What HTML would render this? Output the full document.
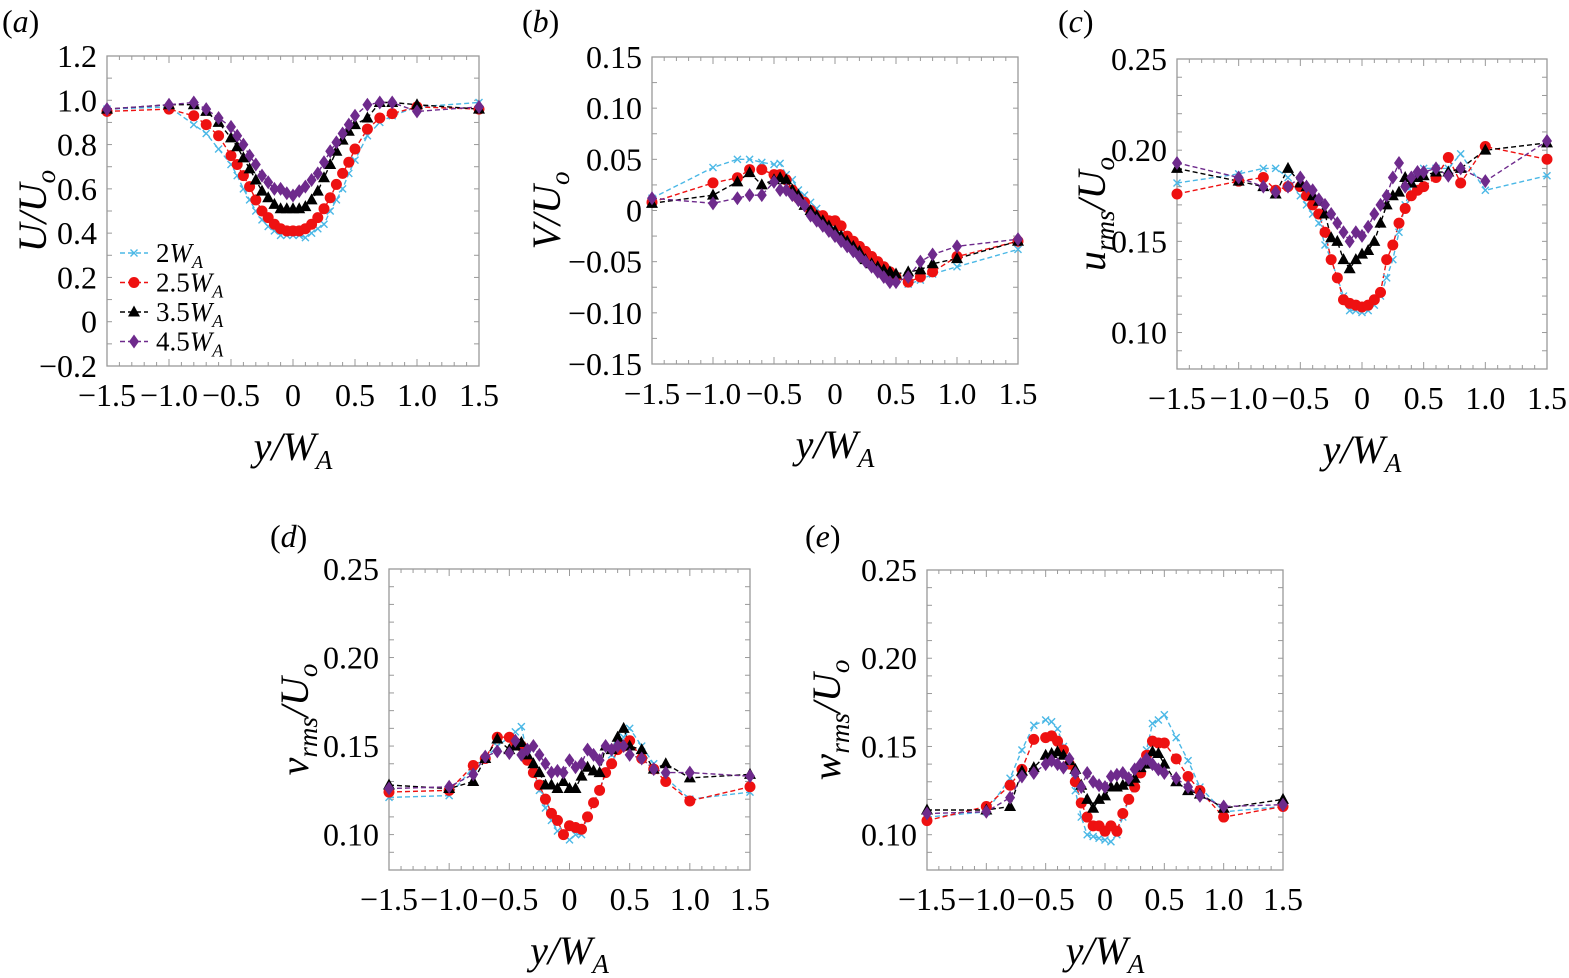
<!DOCTYPE html>
<html><head><meta charset="utf-8"><style>
html,body{margin:0;padding:0;background:#fff;}
svg, svg text{font-family:"Liberation Serif","Times New Roman",Times,serif;}
svg{display:block;}
</style></head><body>
<svg id="fig" width="1569" height="978" viewBox="0 0 1569 978" xmlns="http://www.w3.org/2000/svg" font-family="Liberation Serif, Times New Roman, serif"></svg>
<script>
const xs=[-1.5,-1,-0.8,-0.7,-0.6,-0.5,-0.45,-0.4,-0.35,-0.3,-0.25,-0.2,-0.15,-0.1,-0.05,0,0.05,0.1,0.15,0.2,0.25,0.3,0.35,0.4,0.45,0.5,0.6,0.7,0.8,1.0,1.5];
const seriesNames=["2WA","2.5WA","3.5WA","4.5WA"];
// panel a: U/Uo
const aS1=[0.96,0.97,0.89,0.85,0.78,0.71,0.66,0.60,0.55,0.50,0.46,0.43,0.41,0.39,0.39,0.39,0.39,0.38,0.40,0.42,0.44,0.50,0.55,0.60,0.67,0.73,0.84,0.90,0.93,0.97,0.99];
const aS2=[0.95,0.96,0.93,0.89,0.84,0.75,0.71,0.66,0.61,0.55,0.50,0.47,0.44,0.42,0.41,0.41,0.41,0.42,0.44,0.47,0.51,0.56,0.62,0.67,0.72,0.78,0.87,0.92,0.94,0.97,0.96];
const aS3=[0.96,0.98,0.98,0.95,0.90,0.83,0.79,0.74,0.69,0.64,0.59,0.56,0.53,0.51,0.51,0.51,0.51,0.52,0.55,0.59,0.65,0.71,0.77,0.82,0.86,0.89,0.92,0.99,0.99,0.98,0.96];
const aS4=[0.96,0.98,0.99,0.96,0.92,0.88,0.84,0.80,0.75,0.71,0.66,0.63,0.60,0.60,0.58,0.57,0.59,0.61,0.64,0.67,0.72,0.77,0.81,0.85,0.89,0.93,0.98,0.99,0.99,0.95,0.97];
// panel b: V/Uo
const bS1=[0.012,0.042,0.05,0.05,0.047,0.045,0.046,0.035,0.03,0.02,0.015,0.008,0.002,-0.005,-0.01,-0.015,-0.02,-0.025,-0.03,-0.038,-0.045,-0.05,-0.055,-0.06,-0.065,-0.068,-0.072,-0.068,-0.062,-0.055,-0.038];
const bS2=[0.008,0.027,0.032,0.04,0.04,0.035,0.035,0.03,0.02,0.012,0.008,0.0,-0.005,-0.005,-0.01,-0.01,-0.015,-0.025,-0.03,-0.035,-0.04,-0.045,-0.05,-0.055,-0.06,-0.065,-0.07,-0.065,-0.06,-0.045,-0.03];
const bS3=[0.007,0.015,0.028,0.037,0.025,0.03,0.032,0.03,0.02,0.015,0.005,0.0,-0.005,-0.01,-0.015,-0.02,-0.025,-0.03,-0.035,-0.04,-0.048,-0.052,-0.055,-0.058,-0.06,-0.062,-0.06,-0.058,-0.052,-0.047,-0.03];
const bS4=[0.012,0.007,0.012,0.015,0.015,0.028,0.02,0.02,0.015,0.01,0.005,-0.005,-0.01,-0.015,-0.02,-0.025,-0.03,-0.035,-0.04,-0.045,-0.05,-0.055,-0.06,-0.065,-0.07,-0.07,-0.065,-0.05,-0.043,-0.035,-0.028];
// panel c: urms/Uo
const cS1=[0.182,0.187,0.19,0.19,0.185,0.175,0.17,0.165,0.16,0.148,0.14,0.13,0.12,0.112,0.112,0.111,0.112,0.115,0.12,0.13,0.14,0.155,0.17,0.18,0.185,0.19,0.19,0.19,0.198,0.178,0.186];
const cS2=[0.176,0.183,0.185,0.178,0.18,0.18,0.175,0.17,0.165,0.155,0.14,0.13,0.118,0.116,0.115,0.114,0.115,0.118,0.122,0.14,0.148,0.16,0.168,0.175,0.178,0.18,0.185,0.196,0.182,0.202,0.195];
const cS3=[0.19,0.183,0.18,0.176,0.19,0.182,0.18,0.175,0.172,0.165,0.152,0.15,0.14,0.135,0.14,0.143,0.145,0.15,0.16,0.17,0.175,0.177,0.185,0.182,0.185,0.186,0.188,0.188,0.19,0.2,0.204];
const cS4=[0.193,0.185,0.18,0.177,0.18,0.185,0.18,0.178,0.173,0.17,0.165,0.16,0.155,0.15,0.155,0.153,0.158,0.165,0.17,0.175,0.185,0.193,0.18,0.185,0.188,0.188,0.19,0.186,0.19,0.183,0.205];
// panel d: vrms/Uo
const dS1=[0.121,0.122,0.138,0.143,0.15,0.155,0.158,0.161,0.145,0.135,0.125,0.115,0.108,0.102,0.10,0.097,0.10,0.10,0.11,0.118,0.125,0.135,0.145,0.15,0.155,0.16,0.15,0.14,0.132,0.12,0.124];
const dS2=[0.124,0.125,0.139,0.143,0.155,0.155,0.152,0.15,0.142,0.135,0.128,0.12,0.112,0.108,0.10,0.105,0.104,0.103,0.11,0.118,0.125,0.135,0.14,0.148,0.15,0.153,0.143,0.137,0.13,0.119,0.127];
const dS3=[0.128,0.126,0.13,0.143,0.154,0.148,0.15,0.152,0.145,0.14,0.135,0.128,0.128,0.126,0.13,0.126,0.126,0.133,0.138,0.136,0.135,0.15,0.148,0.155,0.16,0.15,0.148,0.137,0.14,0.132,0.134];
const dS4=[0.126,0.127,0.134,0.144,0.147,0.146,0.153,0.145,0.148,0.15,0.145,0.14,0.135,0.136,0.135,0.142,0.138,0.14,0.148,0.145,0.142,0.15,0.148,0.15,0.15,0.145,0.143,0.137,0.135,0.135,0.133];
// panel e: wrms/Uo
const eS1=[0.11,0.113,0.132,0.148,0.162,0.165,0.164,0.16,0.15,0.14,0.125,0.11,0.10,0.099,0.098,0.097,0.096,0.1,0.11,0.12,0.128,0.138,0.148,0.163,0.165,0.168,0.155,0.142,0.127,0.113,0.116];
const eS2=[0.108,0.116,0.128,0.137,0.154,0.155,0.156,0.153,0.148,0.14,0.13,0.118,0.11,0.105,0.105,0.102,0.105,0.102,0.112,0.12,0.127,0.135,0.145,0.153,0.152,0.152,0.143,0.133,0.125,0.11,0.116];
const eS3=[0.114,0.114,0.116,0.136,0.138,0.145,0.146,0.147,0.145,0.142,0.137,0.128,0.12,0.115,0.12,0.122,0.127,0.127,0.128,0.13,0.132,0.138,0.14,0.147,0.146,0.14,0.13,0.125,0.123,0.115,0.12];
const eS4=[0.112,0.113,0.121,0.133,0.135,0.14,0.142,0.14,0.138,0.143,0.135,0.127,0.135,0.13,0.128,0.127,0.133,0.134,0.135,0.132,0.137,0.14,0.143,0.14,0.137,0.135,0.132,0.127,0.122,0.116,0.117];
const xTickVals=[-1.5,-1,-0.5,0,0.5,1,1.5];
const xTickLabels=["\u22121.5","\u22121.0","\u22120.5","0","0.5","1.0","1.5"];
const aTicks=[-0.2,0,0.2,0.4,0.6,0.8,1.0,1.2];
const aTickLabels=["\u22120.2","0","0.2","0.4","0.6","0.8","1.0","1.2"];
const bTicks=[-0.15,-0.1,-0.05,0,0.05,0.1,0.15];
const bTickLabels=["\u22120.15","\u22120.10","\u22120.05","0","0.05","0.10","0.15"];
const rmsTicks=[0.10,0.15,0.20,0.25];
const rmsTickLabels=["0.10","0.15","0.20","0.25"];

const NS="http://www.w3.org/2000/svg";
const svg=document.getElementById('fig');
const FF='Liberation Serif, Times New Roman, serif';
function mk(tag,attrs,parent){const e=document.createElementNS(NS,tag);for(const k in attrs)e.setAttribute(k,attrs[k]);if(tag==='text')e.setAttribute('font-family',FF);(parent||svg).appendChild(e);return e;}
const colors=["#4bb8e6","#ee1111","#000000","#6e2a8c"];

function marker(g,k,x,y){
  let m;
  if(k===0){m=mk('path',{d:`M${x-3.5},${y-3.5}L${x+3.5},${y+3.5}M${x-3.5},${y+3.5}L${x+3.5},${y-3.5}`,stroke:colors[0],'stroke-width':1.4,fill:'none'},g);}
  else if(k===1){m=mk('circle',{cx:x,cy:y,r:5.5,fill:colors[1]},g);}
  else if(k===2){m=mk('path',{d:`M${x},${y-6.5}L${x+6},${y+4.5}L${x-6},${y+4.5}Z`,fill:colors[2]},g);}
  else {m=mk('path',{d:`M${x},${y-7}L${x+5},${y}L${x},${y+7}L${x-5},${y}Z`,fill:colors[3]},g);}
  
  
}

function panel(p){
  const g=mk('g',{});
  
  
  const sx=v=>p.x0+(v+1.5)/3*(p.x1-p.x0);
  const sy=v=>p.y1-(v-p.ymin)/(p.ymax-p.ymin)*(p.y1-p.y0);
  const fr=mk('rect',{x:p.x0,y:p.y0,width:p.x1-p.x0,height:p.y1-p.y0,fill:'none',stroke:'#999','stroke-width':1.3},g);
  
  
  for(let i=0;i<=30;i++){const v=-1.5+i*0.1;const X=sx(v);const L=(Math.abs(v*2-Math.round(v*2))<1e-6)?7:4;
    mk('line',{x1:X,x2:X,y1:p.y1,y2:p.y1-L,stroke:'#999','stroke-width':1},g);
    mk('line',{x1:X,x2:X,y1:p.y0,y2:p.y0+L,stroke:'#999','stroke-width':1},g);}
  const nm=Math.round((p.ymax-p.ymin)/p.minor);
  for(let i=0;i<=nm;i++){const v=p.ymin+i*p.minor;const Y=sy(v);
    mk('line',{x1:p.x0,x2:p.x0+5,y1:Y,y2:Y,stroke:'#999','stroke-width':1},g);
    mk('line',{x1:p.x1,x2:p.x1-5,y1:Y,y2:Y,stroke:'#999','stroke-width':1},g);}
  xTickVals.forEach((v,i)=>{const t=mk('text',{x:sx(v),y:p.y1+40,'text-anchor':'middle','font-size':p.xfs||32},g);t.textContent=xTickLabels[i];
    });
  p.ticks.forEach((v,i)=>{const t=mk('text',{x:p.x0-10,y:sy(v)+11,'text-anchor':'end','font-size':32},g);t.textContent=p.tickLabels[i];
    });
  const xt=mk('text',{x:(p.x0+p.x1)/2,y:p.y1+94,'text-anchor':'middle','font-size':40,'font-style':'italic'},g);
  xt.innerHTML='y/W<tspan font-size="27" dy="9">A</tspan>';
  
  const cy=(p.y0+p.y1)/2;
  const yt=mk('text',{x:0,y:0,'text-anchor':'middle','font-size':40,'font-style':'italic',transform:`translate(${p.ytx},${cy}) rotate(-90)`},g);
  yt.innerHTML=p.ytitle;
  
  const pl=mk('text',{x:p.lx,y:p.ly,'font-size':32},g);
  pl.innerHTML='(<tspan font-style="italic">'+p.id+'</tspan>)';
  
  p.series.forEach((vals,k)=>{
    const sg=mk('g',{},g);
    
    
    const d=vals.map((v,i)=>(i?'L':'M')+sx(xs[i]).toFixed(1)+','+sy(v).toFixed(1)).join('');
    const ln=mk('path',{d:d,fill:'none',stroke:colors[k],'stroke-width':1.4,'stroke-dasharray':'5,3'},sg);
    
    
  });
  p.series.forEach((vals,k)=>{
    const sg=mk('g',{},g);
    
    
    vals.forEach((v,i)=>marker(sg,k,sx(xs[i]),sy(v)));
  });
  return g;
}
const uo='/U<tspan font-size="27" dy="9">o</tspan>';
const rmsT=c=>c+'<tspan font-size="27" dy="9">rms</tspan><tspan dy="-9">/U</tspan><tspan font-size="27" dy="9">o</tspan>';
panel({id:'a',x0:107,x1:479,y0:56,y1:366,ymin:-0.2,ymax:1.2,minor:0.1,ticks:aTicks,tickLabels:aTickLabels,ytx:46,lx:2,ly:32,
  ytitle:'U'+uo,series:[aS1,aS2,aS3,aS4]});
panel({id:'b',x0:652,x1:1018,y0:57,y1:364,ymin:-0.15,ymax:0.15,minor:0.025,ticks:bTicks,tickLabels:bTickLabels,ytx:560,lx:522,ly:32,xfs:31,
  ytitle:'V'+uo,series:[bS1,bS2,bS3,bS4]});
panel({id:'c',x0:1177,x1:1547,y0:59,y1:369,ymin:0.08,ymax:0.25,minor:0.01,ticks:rmsTicks,tickLabels:rmsTickLabels,ytx:1105,lx:1058,ly:32,
  ytitle:rmsT('u'),series:[cS1,cS2,cS3,cS4]});
panel({id:'d',x0:389,x1:750,y0:569,y1:870,ymin:0.08,ymax:0.25,minor:0.01,ticks:rmsTicks,tickLabels:rmsTickLabels,ytx:308,lx:270,ly:547,
  ytitle:rmsT('v'),series:[dS1,dS2,dS3,dS4]});
panel({id:'e',x0:927,x1:1283,y0:570,y1:870,ymin:0.08,ymax:0.25,minor:0.01,ticks:rmsTicks,tickLabels:rmsTickLabels,ytx:840,lx:805,ly:547,
  ytitle:rmsT('w'),series:[eS1,eS2,eS3,eS4]});
const lg=mk('g',{});


const legLabels=["2","2.5","3.5","4.5"];
legLabels.forEach((s,k)=>{
  const y=253+k*29.5;
  const e=mk('g',{},lg);
  
  
  mk('line',{x1:120,x2:148,y1:y,y2:y,stroke:colors[k],'stroke-width':1.4,'stroke-dasharray':'5,3'},e);
  marker(e,k,134,y);
  const t=mk('text',{x:156,y:y+9,'font-size':27},e);
  t.innerHTML=s+'<tspan font-style="italic">W</tspan><tspan font-style="italic" font-size="18" dy="6">A</tspan>';
});
</script>
</body></html>
